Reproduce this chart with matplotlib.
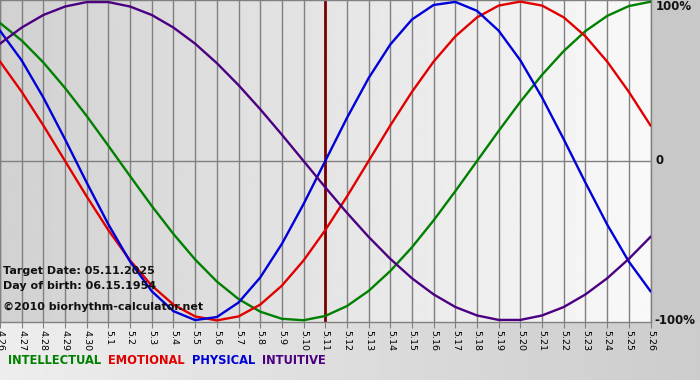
import numpy as np
import matplotlib

matplotlib.use("Agg")
import matplotlib.pyplot as plt

# Days shown on the chart (4.26 .. 5.26), target date 5.11 in the middle
days = ["4.26", "4.27", "4.28", "4.29", "4.30"] + [f"5.{d}" for d in range(1, 27)]
target_idx = 15

# Daily values (fraction of 100%)
physical = [0.817, 0.631, 0.398, 0.136, -0.136, -0.398, -0.631, -0.817, -0.942, -0.998,
            -0.979, -0.888, -0.731, -0.520, -0.270, 0.0, 0.270, 0.520, 0.731, 0.888,
            0.979, 0.998, 0.942, 0.817, 0.631, 0.398, 0.136, -0.136, -0.398, -0.631, -0.817]
emotional = [0.624, 0.434, 0.223, 0.0, -0.223, -0.434, -0.624, -0.782, -0.901, -0.975,
             -1.0, -0.975, -0.901, -0.782, -0.624, -0.434, -0.223, 0.0, 0.223, 0.434,
             0.624, 0.782, 0.901, 0.975, 1.0, 0.975, 0.901, 0.782, 0.624, 0.434, 0.223]
intellectual = [0.866, 0.756, 0.618, 0.458, 0.282, 0.095, -0.095, -0.282, -0.458, -0.618,
                -0.756, -0.866, -0.945, -0.990, -0.999, -0.972, -0.910, -0.815, -0.690, -0.541,
                -0.372, -0.189, 0.0, 0.189, 0.372, 0.541, 0.690, 0.815, 0.910, 0.972, 0.999]
intuitive = [0.736, 0.837, 0.916, 0.969, 0.997, 0.997, 0.969, 0.916, 0.837, 0.736,
             0.614, 0.476, 0.325, 0.165, 0.0, -0.165, -0.325, -0.476, -0.614, -0.736,
             -0.837, -0.916, -0.969, -0.997, -0.997, -0.969, -0.916, -0.837, -0.736, -0.614, -0.476]

series = [
    ("INTELLECTUAL", intellectual, "#008000"),
    ("EMOTIONAL", emotional, "#e00000"),
    ("PHYSICAL", physical, "#0000d8"),
    ("INTUITIVE", intuitive, "#4b0082"),
]

W, H = 700, 380
fig = plt.figure(figsize=(W / 100, H / 100), dpi=100)
fig.patch.set_facecolor("#c8c8c8")

# background panel below the chart: light on the left, grey on the right
bg = fig.add_axes([0, 0, 1, 1], zorder=-5)
bg.axis("off")
grad = np.ones((380, 700))
grad[322:, :] = np.linspace(0.93, 0.80, 700)[None, :]
grad[:322, :] = 0.785
bg.imshow(grad, cmap="gray", vmin=0, vmax=1, extent=[0, 1, 0, 1], aspect="auto")

ax = fig.add_axes([0, 58 / H, 650.5 / W, 322 / H])
ax.set_xlim(0, len(days) - 1)
ax.set_ylim(-1.01, 1.01)

# plot area gradient: darker grey on the left to near white on the right
ax.imshow(np.linspace(0.82, 0.975, 256)[None, :], cmap="gray", vmin=0, vmax=1,
          extent=[0, len(days) - 1, -1.01, 1.01], aspect="auto", zorder=0)

x = np.arange(len(days))
for xi in x:
    ax.axvline(xi, color="#808080", lw=1, zorder=1)
ax.axhline(0, color="#808080", lw=1, zorder=1)
ax.axvline(target_idx, color="#7a0000", lw=2, zorder=2)

for name, vals, color in series:
    ax.plot(x, vals, color=color, lw=1.7, zorder=3, solid_joinstyle="round")

ax.set_xticks(x)
ax.set_xticklabels(days, rotation=-90, fontsize=6.8, va="top", ha="center")
ax.tick_params(axis="x", length=4, color="#808080", pad=1.5)
ax.set_yticks([])
for sp in ax.spines.values():
    sp.set_color("#808080")
    sp.set_linewidth(1)

# right side percent labels (pixel positions from the top-left corner)
for lab, px, py in [("100%", 656, 7), ("0", 656, 161), ("-100%", 654, 321)]:
    fig.text(px / W, 1 - py / H, lab, ha="left", va="center", fontsize=8.5,
             fontweight="bold", color="#111111")

# info text inside the chart
info = [("Target Date: 05.11.2025", 271), ("Day of birth: 06.15.1954", 286),
        ("\u00a92010 biorhythm-calculator.net", 307)]
for txt, py in info:
    fig.text(3 / W, 1 - py / H, txt, fontsize=8, fontweight="bold",
             va="center", ha="left", color="#111111")

# coloured legend words at the bottom
lx = 8
for name, vals, color in series:
    t = fig.text(lx / W, 1 - 361 / H, name, fontsize=8.3, fontweight="bold",
                 color=color, va="center", ha="left")
    fig.canvas.draw()
    bb = t.get_window_extent()
    lx = bb.x1 + 7

fig.savefig("out.png", dpi=100)
